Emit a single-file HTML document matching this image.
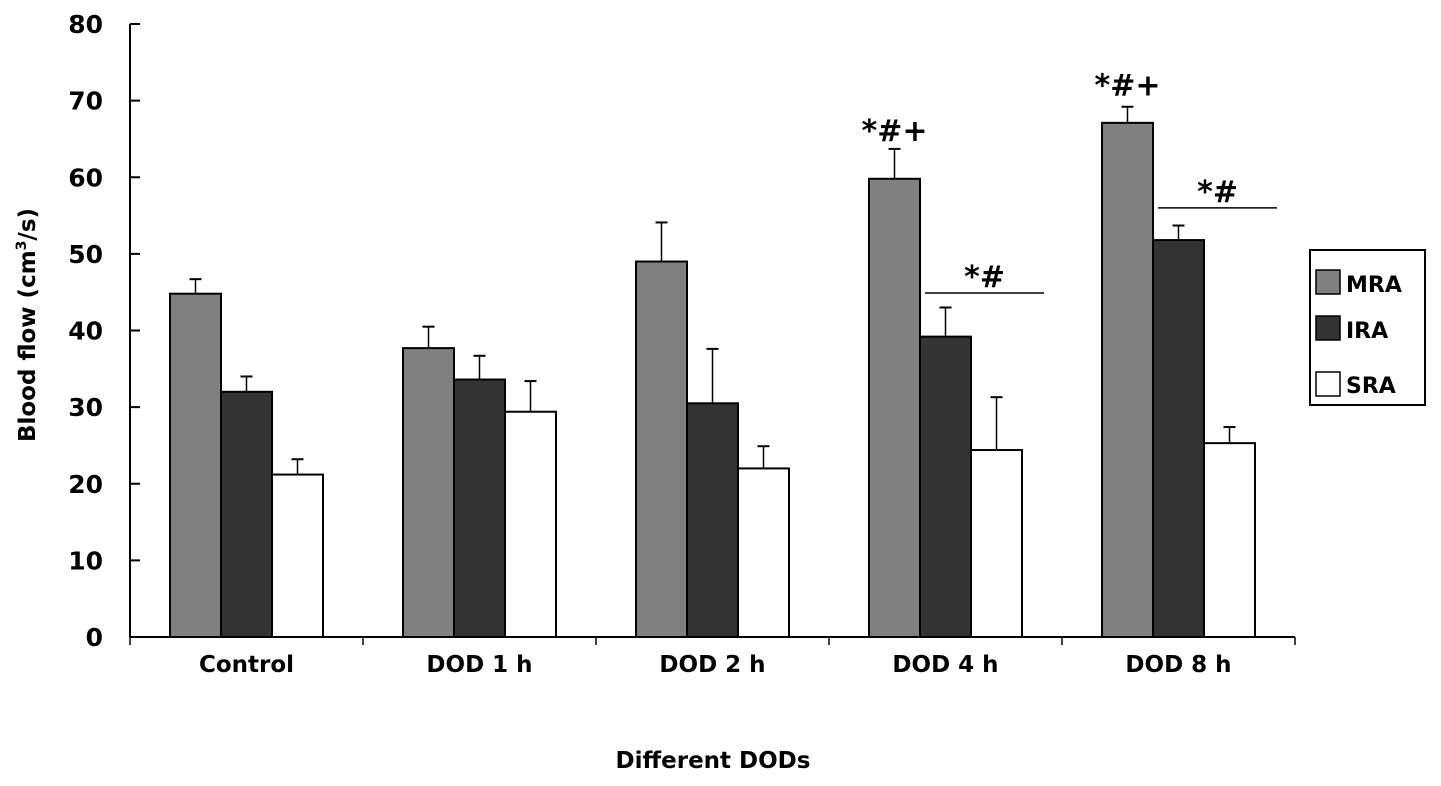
<!DOCTYPE html>
<html><head><meta charset="utf-8"><style>
body{margin:0;background:#fff;}
svg text{font-family:"DejaVu Sans","Liberation Sans",sans-serif;font-weight:bold;fill:#000;}
</style></head><body>
<svg id="chart" width="1441" height="781" viewBox="0 0 1441 781" xmlns="http://www.w3.org/2000/svg">
<g id="axes"></g><g id="bars"></g><g id="ann"></g>
<g>
<rect x="1310" y="250" width="115" height="155" fill="#fff" stroke="#000" stroke-width="2"/>
<rect x="1316" y="270" width="24" height="24" fill="#808080" stroke="#000" stroke-width="1.5"/>
<text x="1346" y="292" font-size="22">MRA</text>
<rect x="1316" y="316" width="24" height="24" fill="#333" stroke="#000" stroke-width="1.5"/>
<text x="1346" y="338" font-size="22">IRA</text>
<rect x="1316" y="372" width="24" height="24" fill="#fff" stroke="#000" stroke-width="1.5"/>
<text x="1346" y="393" font-size="22">SRA</text>
</g>
<text x="713" y="768" font-size="23" text-anchor="middle">Different DODs</text>
<text transform="translate(35,325) rotate(-90)" font-size="23" text-anchor="middle">Blood flow (cm<tspan font-size="14" dy="-9">3</tspan><tspan dy="9">/s)</tspan></text>
</svg>
<script>
const categories=["Control","DOD 1 h","DOD 2 h","DOD 4 h","DOD 8 h"];
const mra=[44.8,37.7,49.0,59.8,67.1];
const ira=[32.0,33.6,30.5,39.2,51.8];
const sra=[21.2,29.4,22.0,24.4,25.3];
const mraErr=[1.9,2.8,5.1,3.9,2.1];
const iraErr=[2.0,3.1,7.1,3.8,1.9];
const sraErr=[2.0,4.0,2.9,6.9,2.1];
const yTicks=[0,10,20,30,40,50,60,70,80];
const NS="http://www.w3.org/2000/svg";
const x0=130,x1=1295,yBase=637,yTop=24;
const catW=(x1-x0)/categories.length;
function y(v){return yBase-(v/80)*(yBase-yTop);}
function mk(t,a,p){const e=document.createElementNS(NS,t);for(const k in a)e.setAttribute(k,a[k]);p.appendChild(e);return e;}
const axes=document.getElementById('axes'),bars=document.getElementById('bars'),ann=document.getElementById('ann');
const ya=mk('line',{x1:x0,y1:yTop,x2:x0,y2:yBase,stroke:'#000','stroke-width':2},axes);


const xa=mk('line',{x1:x0,y1:yBase,x2:x1,y2:yBase,stroke:'#000','stroke-width':2},axes);


yTicks.forEach(v=>{
  mk('line',{x1:x0,y1:y(v),x2:x0+10,y2:y(v),stroke:'#000','stroke-width':2},axes);
  const t=mk('text',{x:103,y:y(v)+9,'font-size':25,'text-anchor':'end'},axes);t.textContent=v;
  
  
});
for(let i=0;i<=categories.length;i++){
  const xx=x0+i*catW;
  mk('line',{x1:xx,y1:yBase,x2:xx,y2:yBase+8,stroke:'#000','stroke-width':1.5},axes);
}
categories.forEach((c,i)=>{
  const t=mk('text',{x:x0+(i+0.5)*catW,y:672,'font-size':23,'text-anchor':'middle'},axes);t.textContent=c;
  
  
});
const series=[[mra,mraErr,'#808080','mra'],[ira,iraErr,'#333333','ira'],[sra,sraErr,'#ffffff','sra']];
const bw=51;
categories.forEach((c,i)=>{
  series.forEach((s,j)=>{
    const bx=x0+i*catW+40+j*bw, v=s[0][i], e=s[1][i];
    const r=mk('rect',{x:bx,y:y(v),width:bw,height:yBase-y(v),fill:s[2],stroke:'#000','stroke-width':2},bars);
    
    
    const cx=bx+bw/2;
    mk('line',{x1:cx,y1:y(v),x2:cx,y2:y(v+e),stroke:'#000','stroke-width':1.5},bars);
    mk('line',{x1:cx-6,y1:y(v+e),x2:cx+6,y2:y(v+e),stroke:'#000','stroke-width':2},bars);
  });
});
function annot(i,text,v,isLine){
  const g=mk('g',{},ann);
  
  
  if(isLine){
    const lx=x0+i*catW+40+bw*1.1, rx=x0+(i+1)*catW-18;
    mk('line',{x1:lx,y1:y(v),x2:rx,y2:y(v),stroke:'#000','stroke-width':1.5},g);
    const t=mk('text',{x:(lx+rx)/2,y:y(v)-6,'font-size':30,'text-anchor':'middle'},g);t.textContent=text;
  }else{
    const t=mk('text',{x:x0+i*catW+40+bw/2,y:y(v),'font-size':30,'text-anchor':'middle'},g);t.textContent=text;
  }
}
annot(3,'*#+',64.7,false);
annot(4,'*#+',70.7,false);
annot(3,'*#',44.9,true);
annot(4,'*#',56.0,true);
</script>
</body></html>
